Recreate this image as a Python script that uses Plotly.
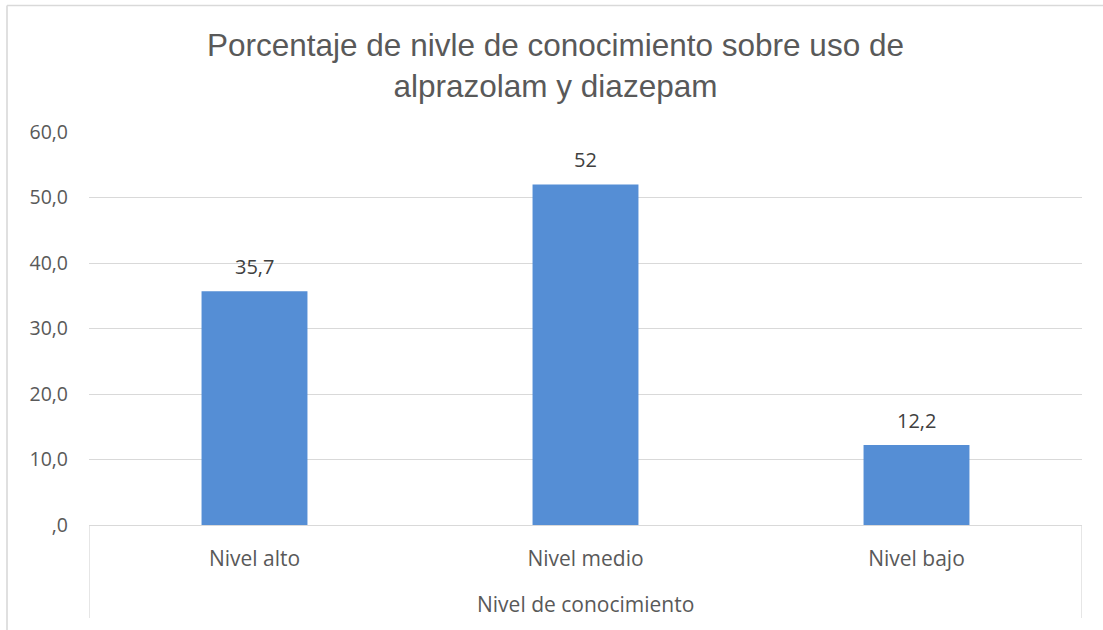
import plotly.graph_objects as go

categories = ["Nivel alto", "Nivel medio", "Nivel bajo"]
values = [35.7, 52, 12.2]
value_labels = ["35,7", "52", "12,2"]
y_tick_vals = [0, 10, 20, 30, 40, 50, 60]
y_tick_text = [",0", "10,0", "20,0", "30,0", "40,0", "50,0", "60,0"]
title_text = "Porcentaje de nivle de conocimiento sobre uso de<br>alprazolam y diazepam"
x_title = "Nivel de conocimiento"

W, H = 1103, 630
ML, MR, MT, MB = 89, 21, 132, 105
PW = W - ML - MR
PH = H - MT - MB

FONT = "Open Sans"
GRID = "#D9D9D9"

fig = go.Figure()
fig.add_trace(go.Bar(
    x=categories, y=values, width=0.32,
    marker=dict(color="#558ED5", line=dict(width=0)),
    hoverinfo="skip",
))

annotations = []
for c, v, t in zip(categories, values, value_labels):
    annotations.append(dict(x=c, y=v, xref="x", yref="y", text=t, showarrow=False,
                            yanchor="middle", yshift=25,
                            font=dict(family=FONT, size=20, color="#404040")))

annotations.append(dict(x=(555.5 - ML) / PW, xref="paper", y=(H - MB - 66) / PH, yref="paper",
                        text=title_text, showarrow=False, xanchor="center", yanchor="middle",
                        font=dict(family="Liberation Sans, Arial", size=31.5, color="#595959")))
annotations.append(dict(x=0.5, xref="paper", y=-(604 - (H - MB)) / PH, yref="paper",
                        text=x_title, showarrow=False, xanchor="center", yanchor="middle",
                        font=dict(family=FONT, size=21, color="#595959")))

shapes = []
for xv in [-0.5, 2.5]:
    shapes.append(dict(type="line", xref="x", yref="paper", x0=xv, x1=xv, y0=0, y1=-(618 - (H - MB)) / PH,
                       line=dict(color=GRID, width=1.3)))
bx = (7 - ML) / PW
by_top = ((H - MB) - 5.5) / PH
by_bot = -(MB + 10) / PH
shapes.append(dict(type="line", xref="paper", yref="paper", x0=bx, x1=bx, y0=by_bot, y1=by_top,
                   line=dict(color=GRID, width=1.6)))
shapes.append(dict(type="line", xref="paper", yref="paper", x0=bx, x1=(W - ML) / PW, y0=by_top, y1=by_top,
                   line=dict(color=GRID, width=1.6)))

fig.update_layout(
    width=W, height=H,
    margin=dict(l=ML, r=MR, t=MT, b=MB, pad=0),
    paper_bgcolor="white", plot_bgcolor="white",
    showlegend=False,
    annotations=annotations,
    shapes=shapes,
    xaxis=dict(
        type="category", range=[-0.5, 2.5],
        showgrid=False, zeroline=False, showline=False,
        ticks="", ticklabelstandoff=19,
        tickfont=dict(family=FONT, size=21, color="#595959"),
        fixedrange=True,
    ),
    yaxis=dict(
        range=[0, 60], tickvals=y_tick_vals, ticktext=y_tick_text,
        showgrid=True, gridcolor=GRID, gridwidth=1.3,
        zeroline=True, zerolinecolor=GRID, zerolinewidth=1.3,
        showline=False, ticks="", ticklabelstandoff=20,
        tickfont=dict(family=FONT, size=19.5, color="#595959"),
        fixedrange=True,
    ),
)

fig.write_html("out.html", config={"displayModeBar": False})
